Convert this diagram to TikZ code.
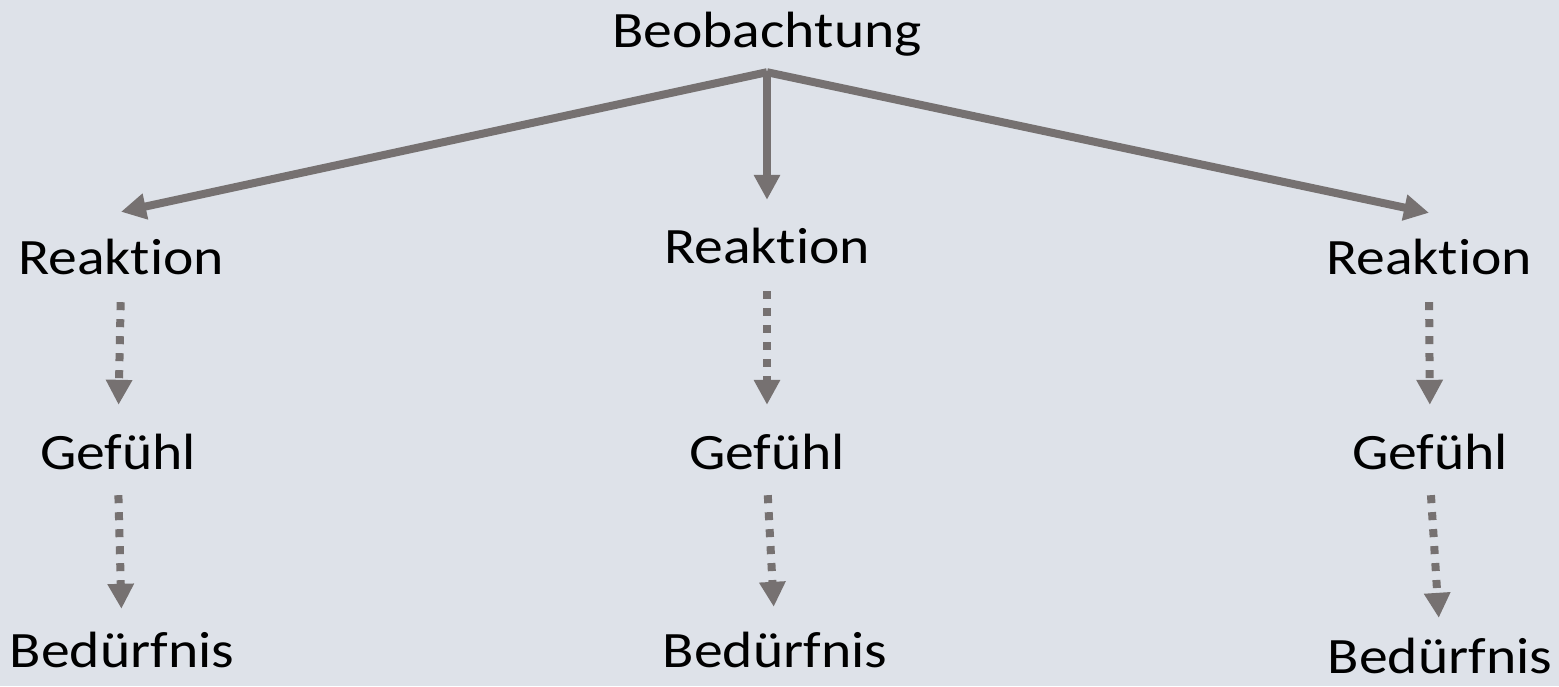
\documentclass[tikz,border=0pt]{standalone}
\usepackage{fontspec}
\setmainfont[FakeStretch=1.13, Ligatures=NoCommon]{Carlito}
\usetikzlibrary{arrows.meta, positioning}

\definecolor{bggray}{HTML}{DEE2E9}
\definecolor{arrowgray}{HTML}{767171}

\begin{document}
\begin{tikzpicture}[
		x=1pt, y=-1pt,
		every node/.style={inner sep=0pt, anchor=base, text height=36pt, text depth=11pt, font=\fontsize{51pt}{60pt}\selectfont},
		arrow/.style={-{Triangle[length=25pt, width=25pt]}, line width=8pt, arrowgray},
		dotarrow/.style={arrow, dash pattern=on 8pt off 9pt, shorten <=17pt}
	]
	
		% Background
		\fill[bggray] (0,0) rectangle (1559,686);
		\useasboundingbox (0,0) rectangle (1559,686);
		
		% Nodes
		\node (beob) at (767,47) {Beobachtung};
		\coordinate (hub) at ([yshift=-14pt]beob.south);
		
		\node (reakL) at (121,274) {Reaktion};
		\node (reakM) at (767,263) {Reaktion};
		\node (reakR) at (1429,274) {Reaktion};
		
		\node (gefL) at (118,469) {Gefühl};
		\node (gefM) at (767,469) {Gefühl};
		\node (gefR) at (1430,469) {Gefühl};
		
		\node[text depth=0pt] (bedL) at (122,667) {Bedürfnis};
		\node[text depth=0pt] (bedM) at (775,667) {Bedürfnis};
		\node[text depth=0pt] (bedR) at (1440,673) {Bedürfnis};
		
		% Arrows
		\draw[arrow] (hub) -- ([yshift=26pt]reakL.north);
		\draw[arrow] (hub) -- ([yshift=27pt]reakM.north);
		\draw[arrow] (hub) -- ([yshift=25pt]reakR.north);
		
		\draw[dotarrow, shorten >=28pt] (reakL.south) -- (gefL.north);
		\draw[dotarrow, shorten >=28pt] (reakM.south) -- (gefM.north);
		\draw[dotarrow, shorten >=28pt] (reakR.south) -- (gefR.north);
		
		\draw[dotarrow, shorten >=22pt, shorten <=15pt] (gefL.south) -- (bedL.north);
		\draw[dotarrow, shorten >=24pt, shorten <=15pt] (gefM.south) -- (bedM.north);
		\draw[dotarrow, shorten >=19pt, shorten <=15pt] (gefR.south) -- (bedR.north);
		
	\end{tikzpicture}
\end{document}
